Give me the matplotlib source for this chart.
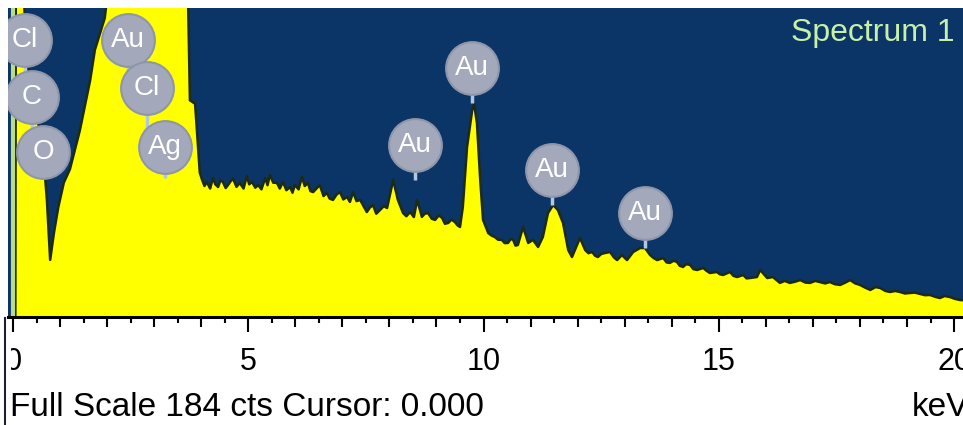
import matplotlib
matplotlib.use("Agg")
import matplotlib.pyplot as plt
from matplotlib.lines import Line2D
from matplotlib.patches import Rectangle

plt.rcParams['font.family'] = ['Liberation Sans', 'DejaVu Sans']

# ---------------- data ----------------
energy_kev = [
    0.00, 0.05, 0.06, 0.22, 0.27, 0.35, 0.45, 0.52, 0.60, 0.68, 0.72, 0.76, 0.79,
    0.87, 0.96, 1.08, 1.21, 1.42, 1.64, 1.74, 1.85, 1.95, 2.00, 2.15, 2.62, 3.00,
    3.40, 3.72, 3.76, 3.87, 3.97, 4.02,
    4.07, 4.12, 4.19, 4.25, 4.30, 4.36, 4.41, 4.46, 4.52, 4.57, 4.63, 4.68, 4.75,
    4.82, 4.90, 4.97, 5.02, 5.08, 5.15, 5.21, 5.28, 5.36, 5.41, 5.46, 5.53, 5.61,
    5.67, 5.74, 5.81, 5.89, 5.94, 5.99, 6.07, 6.14, 6.20, 6.27, 6.32, 6.38, 6.45,
    6.52, 6.60, 6.67, 6.73, 6.80, 6.88, 6.95, 7.02, 7.10, 7.16, 7.23, 7.30, 7.38,
    7.45, 7.52, 7.58, 7.65, 7.72, 7.80, 7.88, 7.95, 8.08, 8.18, 8.29, 8.36, 8.44,
    8.52, 8.59, 8.69, 8.75, 8.82, 8.90, 8.97, 9.05, 9.12, 9.18, 9.25, 9.32, 9.39,
    9.45, 9.50, 9.56, 9.65, 9.76, 9.80, 9.86, 9.93, 9.99, 10.10, 10.17, 10.24,
    10.31, 10.39, 10.45, 10.52, 10.58, 10.63, 10.68, 10.73, 10.84, 10.95, 11.05,
    11.16, 11.26, 11.37, 11.48, 11.58, 11.69, 11.80, 11.88, 11.96, 12.05, 12.16,
    12.23, 12.31, 12.37, 12.43, 12.50, 12.58, 12.69, 12.77, 12.84, 12.94, 13.05,
    13.18, 13.33, 13.43, 13.54, 13.62, 13.69, 13.82, 13.89, 13.96, 14.04, 14.11,
    14.17, 14.24, 14.31, 14.39, 14.46, 14.54, 14.67, 14.74, 14.81, 14.96, 15.02,
    15.09, 15.24, 15.31, 15.39, 15.52, 15.59, 15.66, 15.81, 15.88, 16.03, 16.15,
    16.30, 16.40, 16.51, 16.62, 16.73, 16.84, 16.94, 17.05, 17.15, 17.26, 17.36,
    17.47, 17.58, 17.69, 17.79, 17.90, 18.00, 18.11, 18.22, 18.33, 18.43, 18.54,
    18.64, 18.75, 18.85, 18.96, 19.06, 19.17, 19.28, 19.38, 19.49, 19.60, 19.70,
    19.80, 19.91, 20.02, 20.13, 20.19,
]
counts = [
    0, 0, 200, 200, 165, 140, 122, 118, 105, 84, 70, 50, 34,
    50, 65, 80, 88, 111, 141, 159, 169, 178, 190, 260, 230, 220,
    200, 190, 129, 127, 86, 81.6,
    78.0, 80.4, 76.5, 82.8, 79.0, 77.4, 81.5, 80.4, 76.8, 78.6, 81.0, 82.2, 77.5,
    79.8, 76.5, 84.0, 79.0, 80.4, 77.0, 78.6, 76.0, 82.8, 78.5, 84.6, 80.0, 79.8,
    76.5, 80.4, 75.5, 77.4, 74.0, 78.6, 76.0, 83.4, 78.0, 79.8, 75.0, 74.4, 76.5,
    78.6, 72.0, 73.9, 70.5, 69.7, 73.0, 74.4, 70.0, 71.5, 68.5, 74.4, 69.0, 69.7,
    66.0, 62.5, 65.0, 66.7, 61.5, 63.7, 66.0, 64.9, 81.6, 69.7, 61.9, 60.0, 62.5,
    59.5, 69.7, 59.6, 61.5, 61.9, 58.5, 57.8, 60.5, 59.0, 55.5, 56.0, 58.0, 56.6,
    54.5, 53.6, 65.5, 101.3, 123.3, 126.9, 115.5, 81.6, 57.8, 50.0, 48.5, 47.6,
    46.0, 45.9, 44.0, 44.1, 46.5, 45.9, 42.5, 42.9, 53.6, 44.1, 45.9,
    41.7, 47.6, 61.9, 66.7, 63.7, 56.0, 39.9, 35.7, 41.0, 47.1, 39.9,
    38.0, 38.7, 36.5, 35.7, 37.5, 38.1, 38.7, 35.5, 33.9, 36.9, 33.9,
    38.7, 41.1, 41.1, 36.9, 35.0, 33.9, 35.1, 32.5, 32.2, 33.5, 32.8,
    30.5, 29.8, 31.5, 31.0, 28.5, 28.0, 29.2, 27.5, 26.2, 26.8, 25.5,
    25.0, 26.8, 24.5, 23.8, 25.0, 23.0, 23.2, 23.8, 28.0, 23.2, 23.8,
    20.3, 21.5, 20.3, 21.0, 22.0, 20.5, 20.3, 21.5, 20.8, 20.0, 20.8,
    19.5, 19.1, 20.5, 22.0, 20.0, 19.1, 17.5, 16.1, 17.8, 17.3, 15.5,
    14.9, 15.5, 14.9, 14.0, 14.3, 14.5, 13.7, 13.0, 13.1, 12.0, 11.3,
    12.5, 11.9, 10.8, 10.1, 10.0,
]

# peak labels: text, label centre (keV, cts), pin tip (cts)
label_text = ['Cl', 'C', 'O', 'Au', 'Cl', 'Ag', 'Au', 'Au', 'Au', 'Au']
label_kev = [0.26, 0.40, 0.64, 2.44, 2.85, 3.23, 8.54, 9.76, 11.46, 13.43]
label_cts = [165, 131, 98.3, 165, 136.4, 101.3, 102.4, 148.3, 87.6, 61.9]
pin_cts = [131, 98.3, 82, 136.4, 101.3, 82.8, 81.6, 127.5, 66.7, 41.1]

tick_labels = [0, 5, 10, 15, 20]
full_scale = 184
cursor_kev = 0.0

# ---------------- figure ----------------
W, H = 963, 425
fig = plt.figure(figsize=(W / 100, H / 100), dpi=100)
fig.patch.set_facecolor('white')

ax = fig.add_axes([8 / W, 1 - 317 / H, (W - 8) / W, (317 - 8) / H])
ax.set_facecolor('#0b3567')
ax.set_xlim(-0.106, 20.19)
ax.set_ylim(0, full_scale)

ax.fill_between(energy_kev, counts, 0, color='#ffff00', lw=0, zorder=2)
ax.plot(energy_kev, counts, color='#1e2a12', lw=1.8, zorder=3)

ax.axvline(cursor_kev, color='#b8dc8c', lw=3, zorder=4)

# labels
for t, lx, ly, py in zip(label_text, label_kev, label_cts, pin_cts):
    ax.plot([lx, lx], [ly, py], color='#b4c6e0', lw=2.5, zorder=5,
            solid_capstyle='butt')
    ax.plot([lx], [ly], marker='o', markersize=38, color='#a3a9bb',
            markeredgecolor='#8f96aa', markeredgewidth=1.5, zorder=6)
    ax.text(lx, ly, t, color='white', fontsize=20, ha='center', va='center',
            zorder=7)

for s in ['top', 'left', 'right']:
    ax.spines[s].set_visible(False)
ax.spines['bottom'].set_linewidth(2.2)
ax.spines['bottom'].set_color('black')
ax.spines['bottom'].set_zorder(8)

ax.set_yticks([])
ax.set_xticks(tick_labels)
ax.set_xticklabels([str(v) for v in tick_labels])
ax.set_xticks([v * 0.5 for v in range(0, 41) if v % 2 == 1], minor=True)
ax.tick_params(axis='x', which='major', length=10.5, width=1.5,
               labelsize=22, pad=11, color='black')
ax.tick_params(axis='x', which='minor', length=4, width=1.5, color='black')

sec = ax.secondary_xaxis('bottom')
sec.set_xticks([v for v in range(0, 21) if v % 5 != 0])
sec.tick_params(axis='x', which='major', length=7, width=1.5,
                labelbottom=False, color='black')
sec.spines['bottom'].set_visible(False)

# spectrum title
fig.text(955 / W, 1 - 33 / H, 'Spectrum 1', color='#c8f0a8', fontsize=23,
         ha='right', va='center')

# bottom status text
fig.text(10 / W, 1 - 407 / H, 'Full Scale 184 cts Cursor: 0.000',
         color='black', fontsize=24, ha='left', va='center')
fig.text(912 / W, 1 - 407 / H, 'keV', color='black', fontsize=24,
         ha='left', va='center')

# left crop edge of the original screenshot
fig.patches.append(Rectangle((0, 1 - 385 / H), 11 / W, 60 / H,
                             transform=fig.transFigure, facecolor='white',
                             edgecolor='none', zorder=5))
fig.lines.append(Line2D([5 / W, 5 / W], [0, 1 - 318 / H],
                        transform=fig.transFigure, color='#1a2030', lw=1.5,
                        zorder=6))

fig.savefig('out.png', dpi=100, facecolor='white')
